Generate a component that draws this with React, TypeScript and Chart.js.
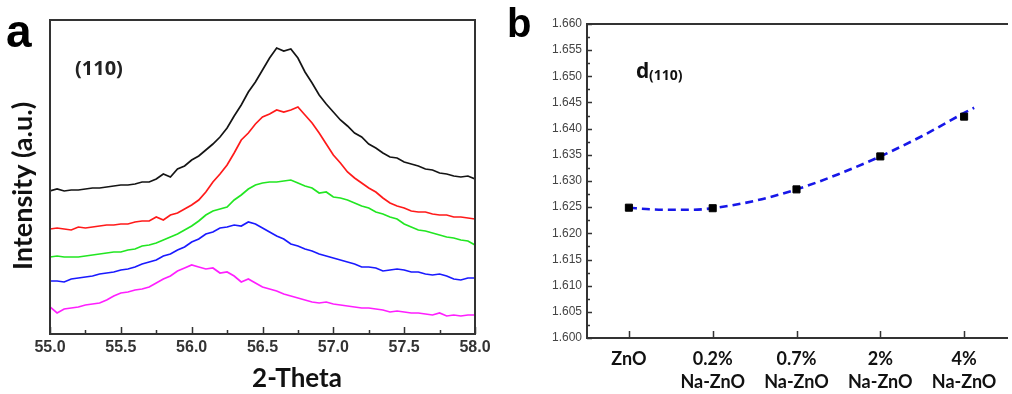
import React, { useEffect, useRef } from "react";
import { Chart, registerables } from "chart.js";

Chart.register(...registerables);

// ---------- Panel a : XRD (110) peak ----------
const twoTheta = [
  55.0, 55.05, 55.1, 55.15, 55.2, 55.25, 55.3, 55.35, 55.4, 55.45,
  55.5, 55.55, 55.6, 55.65, 55.7, 55.75, 55.8, 55.85, 55.9, 55.95,
  56.0, 56.05, 56.1, 56.15, 56.2, 56.25, 56.3, 56.35, 56.4, 56.45,
  56.5, 56.55, 56.6, 56.65, 56.7, 56.75, 56.8, 56.85, 56.9, 56.95,
  57.0, 57.05, 57.1, 57.15, 57.2, 57.25, 57.3, 57.35, 57.4, 57.45,
  57.5, 57.55, 57.6, 57.65, 57.7, 57.75, 57.8, 57.85, 57.9, 57.95,
  58.0,
];

const intensityZnO = [
  143, 145, 143, 144, 144, 145, 146, 146, 147, 148,
  149, 149, 150, 152, 152, 155, 160, 157, 165, 168,
  174, 178, 184, 190, 197, 206, 218, 229, 242, 252,
  264, 276, 286, 283, 285, 276, 262, 251, 239, 230,
  222, 214, 208, 201, 197, 190, 186, 181, 177, 176,
  172, 170, 168, 165, 164, 161, 160, 158, 157, 158,
  155,
];

const intensityNa02 = [
  105, 106, 105, 104, 107, 106, 107, 108, 109, 109,
  110, 110, 112, 113, 113, 117, 114, 119, 121, 125,
  129, 134, 142, 152, 160, 169, 181, 194, 201, 210,
  217, 220, 224, 222, 224, 227, 219, 211, 201, 190,
  179, 171, 162, 156, 151, 146, 142, 136, 131, 128,
  126, 123, 122, 122, 120, 119, 119, 117, 117, 116,
  115,
];

const intensityNa07 = [
  77, 78, 77, 77, 77, 78, 79, 80, 81, 82,
  82, 84, 85, 88, 89, 91, 94, 97, 100, 104,
  108, 113, 119, 123, 125, 127, 134, 139, 145, 149,
  151, 152, 152, 153, 154, 151, 148, 146, 141, 142,
  137, 136, 134, 131, 128, 126, 122, 120, 117, 115,
  110, 107, 104, 103, 101, 99, 97, 96, 94, 93,
  89,
];

const intensityNa2 = [
  53, 53, 52, 55, 56, 57, 58, 60, 61, 62,
  64, 65, 67, 70, 72, 74, 78, 80, 84, 87,
  92, 95, 100, 102, 106, 107, 109, 108, 112, 110,
  106, 102, 98, 95, 90, 88, 85, 83, 80, 78,
  76, 74, 72, 70, 67, 67, 66, 63, 64, 65,
  64, 62, 62, 60, 59, 60, 58, 55, 54, 56,
  56,
];

const intensityNa4 = [
  27, 21, 25, 26, 27, 29, 30, 31, 34, 38,
  41, 42, 44, 45, 47, 51, 55, 58, 63, 66,
  69, 67, 65, 66, 61, 62, 58, 52, 55, 51,
  47, 45, 43, 40, 38, 36, 34, 32, 31, 32,
  30, 29, 28, 27, 26, 26, 25, 24, 22, 23,
  22, 21, 21, 20, 19, 21, 18, 19, 18, 19,
  19,
];

const seriesNames = ["ZnO", "0.2% Na-ZnO", "0.7% Na-ZnO", "2% Na-ZnO", "4% Na-ZnO"];
const seriesColors = ["#141414", "#ff1a1a", "#22e622", "#1a1aff", "#ff1fff"];
const xMajorTicksA = [55.0, 55.5, 56.0, 56.5, 57.0, 57.5, 58.0];
const xMinorTicksA = [55.25, 55.75, 56.25, 56.75, 57.25, 57.75];

// ---------- Panel b : d(110) spacing ----------
const categories = [["ZnO"], ["0.2%", "Na-ZnO"], ["0.7%", "Na-ZnO"], ["2%", "Na-ZnO"], ["4%", "Na-ZnO"]];
const categoryPos = [0, 1, 2, 3, 4];
const dSpacing = [1.6249, 1.6248, 1.6284, 1.6347, 1.6423];
const fitX = [0, 0.25, 0.5, 0.75, 1, 1.5, 2, 2.5, 3, 3.5, 4, 4.12];
const fitY = [1.6249, 1.6246, 1.6245, 1.6245, 1.6248, 1.6262, 1.6284, 1.6313, 1.6347, 1.6386, 1.643, 1.644];
const yMajorTicksB = [1.6, 1.605, 1.61, 1.615, 1.62, 1.625, 1.63, 1.635, 1.64, 1.645, 1.65, 1.655, 1.66];
const yMinorTicksB = [1.6025, 1.6075, 1.6125, 1.6175, 1.6225, 1.6275, 1.6325, 1.6375, 1.6425, 1.6475, 1.6525, 1.6575];

const FRAME = "#333333";

export default function App() {
  const refA = useRef<HTMLCanvasElement | null>(null);
  const refB = useRef<HTMLCanvasElement | null>(null);

  useEffect(() => {
    const frameA = {
      id: "frameA",
      afterDraw(chart: any) {
        const { ctx, chartArea } = chart;
        const { left, right, top, bottom } = chartArea;
        const x = chart.scales.x;
        ctx.save();
        ctx.strokeStyle = FRAME;
        ctx.lineWidth = 2;
        ctx.strokeRect(left, top, right - left, bottom - top);
        ctx.lineWidth = 1.5;
        ctx.beginPath();
        for (const v of xMajorTicksA) {
          const px = Math.round(x.getPixelForValue(v)) + 0.5;
          ctx.moveTo(px, bottom);
          ctx.lineTo(px, bottom - 7);
        }
        for (const v of xMinorTicksA) {
          const px = Math.round(x.getPixelForValue(v)) + 0.5;
          ctx.moveTo(px, bottom);
          ctx.lineTo(px, bottom - 4);
        }
        ctx.stroke();

        ctx.fillStyle = "#000";
        ctx.textBaseline = "alphabetic";
        ctx.textAlign = "left";
        ctx.font = "bold 46px 'Liberation Sans'";
        ctx.fillText("a", 6, 47);
        ctx.font = "bold 20px 'Open Sans'";
        ctx.fillStyle = "#222";
        ctx.fillText("(110)", 75, 75);
        ctx.textAlign = "center";
        ctx.font = "bold 26px Lato";
        ctx.fillStyle = "#111";
        ctx.fillText("2-Theta", 297, 387);
        ctx.save();
        ctx.translate(31.5, 186);
        ctx.rotate(-Math.PI / 2);
        ctx.font = "bold 27px Lato";
        ctx.fillText("Intensity (a.u.)", 0, 0);
        ctx.restore();
        ctx.restore();
      },
    };

    const datasetsA = [intensityZnO, intensityNa02, intensityNa07, intensityNa2, intensityNa4].map((vals, k) => ({
      label: seriesNames[k],
      data: twoTheta.map((t, i) => ({ x: t, y: vals[i] })),
      borderColor: seriesColors[k],
      backgroundColor: seriesColors[k],
      borderWidth: 1.7,
      pointRadius: 0,
      tension: 0,
      fill: false,
    }));

    const chartA = new Chart(refA.current as HTMLCanvasElement, {
      type: "line",
      data: { datasets: datasetsA as any },
      options: {
        responsive: false,
        animation: false,
        devicePixelRatio: 1,
        layout: { padding: { left: 50, top: 20, right: 25, bottom: 0 } },
        plugins: { legend: { display: false }, tooltip: { enabled: false } },
        scales: {
          x: {
            type: "linear",
            min: 55,
            max: 58,
            afterBuildTicks: (s: any) => {
              s.ticks = xMajorTicksA.map((v) => ({ value: v }));
            },
            afterFit: (s: any) => {
              s.height = 60;
            },
            grid: { display: false, drawTicks: false },
            border: { display: false },
            ticks: {
              autoSkip: false,
              maxRotation: 0,
              padding: 4,
              color: "#333",
              font: { family: "'Liberation Sans'", weight: "bold", size: 16 },
              callback: (v: any) => Number(v).toFixed(1),
            },
          },
          y: { type: "linear", display: false, min: 0, max: 314 },
        },
      } as any,
      plugins: [frameA],
    });

    const frameB = {
      id: "frameB",
      afterDraw(chart: any) {
        const { ctx, chartArea } = chart;
        const { left, right, top, bottom } = chartArea;
        const x = chart.scales.x;
        const y = chart.scales.y;
        ctx.save();
        ctx.strokeStyle = FRAME;
        ctx.lineWidth = 2;
        ctx.beginPath();
        ctx.moveTo(right + 2, top);
        ctx.lineTo(left, top);
        ctx.lineTo(left, bottom);
        ctx.lineTo(right + 2, bottom);
        ctx.stroke();
        ctx.lineWidth = 1.5;
        ctx.beginPath();
        for (const v of yMajorTicksB) {
          const py = Math.round(y.getPixelForValue(v)) + 0.5;
          ctx.moveTo(left, py);
          ctx.lineTo(left + 5, py);
        }
        for (const v of yMinorTicksB) {
          const py = Math.round(y.getPixelForValue(v)) + 0.5;
          ctx.moveTo(left, py);
          ctx.lineTo(left + 3, py);
        }
        for (const v of categoryPos) {
          const px = Math.round(x.getPixelForValue(v)) + 0.5;
          ctx.moveTo(px, bottom);
          ctx.lineTo(px, bottom - 7);
        }
        ctx.stroke();

        ctx.fillStyle = "#000";
        ctx.textAlign = "left";
        ctx.textBaseline = "alphabetic";
        ctx.font = "bold 40px 'Liberation Sans'";
        ctx.fillText("b", 7, 37);
        ctx.fillStyle = "#111";
        ctx.font = "bold 21px 'Open Sans'";
        ctx.fillText("d", 136, 78);
        ctx.font = "bold 14px 'Open Sans'";
        ctx.fillText("(110)", 149, 80);
        ctx.restore();
      },
    };

    const chartB = new Chart(refB.current as HTMLCanvasElement, {
      type: "scatter",
      data: {
        datasets: [
          {
            label: "d(110)",
            type: "scatter",
            data: categoryPos.map((c, i) => ({ x: c, y: dSpacing[i] })),
            pointStyle: "rect",
            pointRadius: 5,
            backgroundColor: "#000",
            borderColor: "#000",
            borderWidth: 1,
          },
          {
            label: "fit",
            type: "line",
            data: fitX.map((fx, i) => ({ x: fx, y: fitY[i] })),
            borderColor: "#1717e8",
            borderWidth: 2.6,
            borderDash: [8, 5],
            pointRadius: 0,
            cubicInterpolationMode: "monotone",
            fill: false,
          },
        ] as any,
      },
      options: {
        responsive: false,
        animation: false,
        devicePixelRatio: 1,
        layout: { padding: { left: 0, top: 24, right: 0, bottom: 0 } },
        plugins: { legend: { display: false }, tooltip: { enabled: false } },
        scales: {
          x: {
            type: "linear",
            min: -0.5,
            max: 4.5,
            afterBuildTicks: (s: any) => {
              s.ticks = categoryPos.map((v) => ({ value: v }));
            },
            afterFit: (s: any) => {
              s.height = 56;
            },
            grid: { display: false, drawTicks: false },
            border: { display: false },
            ticks: {
              autoSkip: false,
              maxRotation: 0,
              padding: 10,
              color: "#111",
              font: { family: "Lato", weight: "bold", size: 18, lineHeight: 1.28 },
              callback: (v: any) => categories[Math.round(Number(v))],
            },
          },
          y: {
            type: "linear",
            min: 1.6,
            max: 1.66,
            afterBuildTicks: (s: any) => {
              s.ticks = yMajorTicksB.map((v) => ({ value: v }));
            },
            afterFit: (s: any) => {
              s.width = 87;
            },
            grid: { display: false, drawTicks: false },
            border: { display: false },
            ticks: {
              autoSkip: false,
              padding: 5,
              color: "#444",
              font: { family: "'Liberation Sans'", size: 12 },
              callback: (v: any) => Number(v).toFixed(3),
            },
          },
        },
      } as any,
      plugins: [frameB],
    });

    return () => {
      chartA.destroy();
      chartB.destroy();
    };
  }, []);

  return (
    <div style={{ position: "fixed", left: 0, top: 0, width: 1012, height: 394, background: "#fff", overflow: "hidden" }}>
      <canvas ref={refA} width={500} height={394} style={{ position: "absolute", left: 0, top: 0, width: 500, height: 394 }} />
      <canvas ref={refB} width={512} height={394} style={{ position: "absolute", left: 500, top: 0, width: 512, height: 394 }} />
    </div>
  );
}
